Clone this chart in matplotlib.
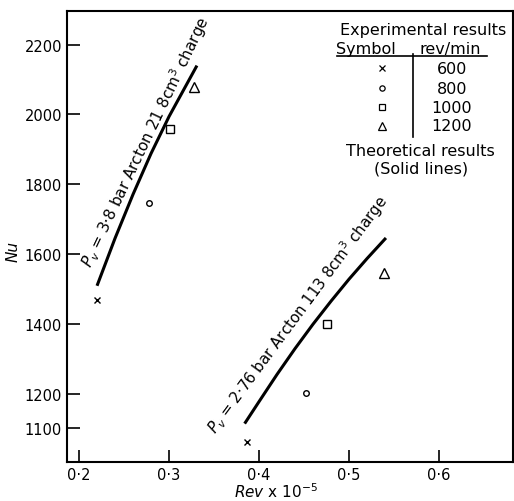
import matplotlib
matplotlib.use("Agg")
import matplotlib.pyplot as plt
from matplotlib.lines import Line2D

plt.rcParams['font.family'] = ['DejaVu Sans']
plt.rcParams['mathtext.fontset'] = 'dejavusans'

# Experimental data, upper set (3.8 bar Arcton 21)
rev_a = [0.220, 0.278, 0.301, 0.328]
nu_a = [1469, 1746, 1957, 2080]
# Experimental data, lower set (2.76 bar Arcton 113)
rev_b = [0.387, 0.452, 0.476, 0.539]
nu_b = [1060, 1203, 1400, 1546]
symbols = ['x', 'o', 's', '^']
speeds = ['600', '800', '1000', '1200']

# Theoretical curves (solid lines)
theo_a_rev = [0.220, 0.240, 0.260, 0.280, 0.300, 0.331]
theo_a_nu = [1509, 1645, 1771, 1888, 1994, 2140]
theo_b_rev = [0.384, 0.400, 0.420, 0.440, 0.460, 0.480, 0.500, 0.520, 0.541]
theo_b_nu = [1114, 1177, 1255, 1329, 1399, 1465, 1528, 1587, 1646]

xticks = [0.2, 0.3, 0.4, 0.5, 0.6]
xticklabels = ['0·2', '0·3', '0·4', '0·5', '0·6']
yticks = [1100, 1200, 1400, 1600, 1800, 2000, 2200]

fig = plt.figure(figsize=(5.14, 5.02), dpi=100)
ax = fig.add_axes([0.1304, 0.0777, 0.8677, 0.8974])
ax.set_xlim(0.18667, 0.6822)
ax.set_ylim(1004, 2295)

ax.plot(theo_a_rev, theo_a_nu, color='black', lw=2.2, solid_capstyle='butt')
ax.plot(theo_b_rev, theo_b_nu, color='black', lw=2.2, solid_capstyle='butt')

msize = {'x': 4.5, 'o': 4, 's': 5.5, '^': 7}
for r, n, m in zip(rev_a, nu_a, symbols):
    ax.plot(r, n, marker=m, ms=msize[m], mfc='white', mec='black', mew=1.0, ls='none')
for r, n, m in zip(rev_b, nu_b, symbols):
    ax.plot(r, n, marker=m, ms=msize[m], mfc='white', mec='black', mew=1.0, ls='none')

ax.text(0.2740, 1925, r'$P_v$ = 3·8 bar Arcton 21 8cm$^3$ charge', rotation=64.5,
        rotation_mode='anchor', ha='center', va='center', fontsize=11)
ax.text(0.4425, 1430, r'$P_v$ = 2·76 bar Arcton 113 8cm$^3$ charge', rotation=53.5,
        rotation_mode='anchor', ha='center', va='center', fontsize=10.8)

ax.set_xticks(xticks)
ax.set_xticklabels(xticklabels)
ax.set_yticks(yticks)
ax.tick_params(direction='in', length=9, width=1.2, labelsize=10.5, pad=3.5)
for s in ax.spines.values():
    s.set_linewidth(1.5)

ax.set_ylabel('Nu', fontstyle='italic', fontsize=11)
ax.yaxis.set_label_coords(-0.105, 0.47)
ax.set_xlabel(r'$Rev$ x 10$^{-5}$', fontsize=11)
ax.xaxis.set_label_coords(0.469, -0.042)

# Legend table
T = ax.transAxes
fs = 11.5
ax.text(0.799, 0.960, 'Experimental results', transform=T, ha='center', va='center', fontsize=fs)
ax.text(0.670, 0.907, 'Symbol', transform=T, ha='center', va='baseline', fontsize=fs)
ax.text(0.859, 0.907, 'rev/min', transform=T, ha='center', va='baseline', fontsize=fs)
ax.add_line(Line2D([0.605, 0.942], [0.9013, 0.9013], transform=T, color='black', lw=1.2))
ax.add_line(Line2D([0.776, 0.776], [0.9046, 0.7206], transform=T, color='black', lw=1.2))
rows_y = [0.8736, 0.830, 0.788, 0.746]
lms = {'x': 5, 'o': 3.8, 's': 4.5, '^': 5.5}
for y, m, sp in zip(rows_y, symbols, speeds):
    ax.plot([0.7056], [y], transform=T, marker=m, ms=lms[m], mfc='white', mec='black', mew=0.9, ls='none')
    ax.text(0.8625, y, sp, transform=T, ha='center', va='center', fontsize=fs)
ax.text(0.793, 0.692, 'Theoretical results', transform=T, ha='center', va='center', fontsize=fs)
ax.text(0.793, 0.653, '(Solid lines)', transform=T, ha='center', va='center', fontsize=fs)

fig.savefig('out.png', dpi=100)
